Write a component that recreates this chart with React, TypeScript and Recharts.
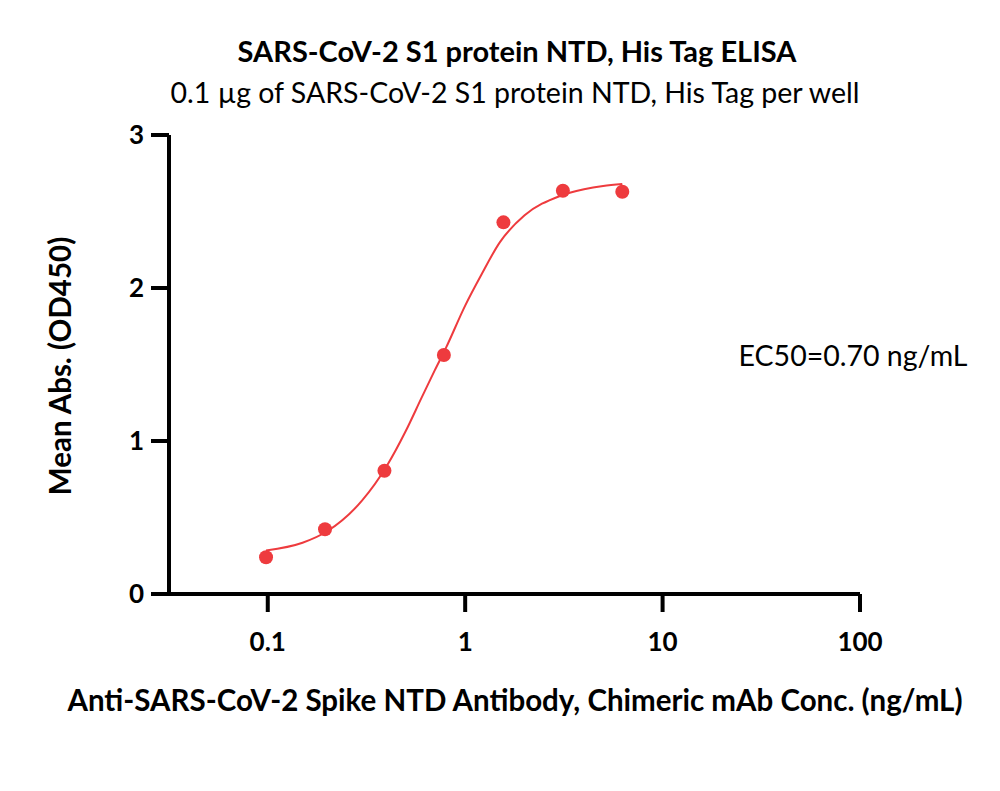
import React from 'react';
import {
  ComposedChart,
  Line,
  Scatter,
  XAxis,
  YAxis,
} from 'recharts';

// Measured ELISA points: antibody concentration (ng/mL) vs mean OD450
const concentrations = [0.098, 0.195, 0.39, 0.78, 1.5625, 3.125, 6.25];
const meanAbs = [0.24, 0.423, 0.806, 1.562, 2.429, 2.636, 2.629];

// Fitted 4PL curve, sampled along the concentration range
const fitConc = [0.098, 0.15, 0.2, 0.3, 0.4, 0.5, 0.6, 0.7, 0.8, 1.0, 1.2, 1.5, 2, 3, 4, 5, 6.25];
const fitAbs = [0.285, 0.335, 0.41, 0.61, 0.835, 1.065, 1.28, 1.46, 1.61, 1.885, 2.08, 2.3, 2.475, 2.6, 2.645, 2.667, 2.68];

const xTicks = [0.1, 1, 10, 100];
const yTicks = [0, 1, 2, 3];

const title = 'SARS-CoV-2 S1 protein NTD, His Tag ELISA';
const subtitle = '0.1 µg of SARS-CoV-2 S1 protein NTD, His Tag per well';
const xLabel = 'Anti-SARS-CoV-2 Spike NTD Antibody, Chimeric mAb Conc. (ng/mL)';
const yLabel = 'Mean Abs. (OD450)';
const ec50Text = 'EC50=0.70 ng/mL';

const RED = '#EE3B3E';
const FONT = 'Lato, "Open Sans", sans-serif';

const points = concentrations.map((x, i) => ({ x, y: meanAbs[i] }));
const fit = fitConc.map((x, i) => ({ x, y: fitAbs[i] }));

const tickStyle = { fill: '#000', fontSize: 26, fontWeight: 700, fontFamily: FONT };

function Centered({ x, y, children, style }: { x: number; y: number; children: React.ReactNode; style?: React.CSSProperties }) {
  return (
    <div
      style={{
        position: 'absolute',
        left: x,
        top: y,
        transform: 'translate(-50%, -50%)',
        whiteSpace: 'nowrap',
        lineHeight: 1,
        fontFamily: FONT,
        color: '#000',
        ...style,
      }}
    >
      {children}
    </div>
  );
}

export default function App() {
  return (
    <div style={{ position: 'relative', width: 984, height: 775 }}>
      <ComposedChart
        width={984}
        height={775}
        margin={{ top: 127, right: 132, left: 101, bottom: 129 }}
      >
        <XAxis
          dataKey="x"
          type="number"
          scale="log"
          domain={[0.0316, 100]}
          ticks={xTicks}
          allowDataOverflow
          tickFormatter={(v) => String(v)}
          tick={tickStyle}
          tickSize={18}
          tickMargin={21}
          height={60}
          axisLine={{ stroke: '#000', strokeWidth: 4 }}
          tickLine={{ stroke: '#000', strokeWidth: 4 }}
        />
        <YAxis
          dataKey="y"
          type="number"
          domain={[0, 3]}
          ticks={yTicks}
          tick={tickStyle}
          tickSize={18}
          tickMargin={7}
          width={60}
          axisLine={{ stroke: '#000', strokeWidth: 4 }}
          tickLine={{ stroke: '#000', strokeWidth: 4 }}
        />
        <Line
          data={fit}
          dataKey="y"
          type="monotone"
          stroke={RED}
          strokeWidth={2}
          dot={false}
          activeDot={false}
          isAnimationActive={false}
        />
        <Scatter
          data={points}
          dataKey="y"
          fill={RED}
          shape={(p: any) => <circle cx={p.cx} cy={p.cy} r={7} fill={RED} />}
          isAnimationActive={false}
        />
      </ComposedChart>

      <Centered x={509} y={42} style={{ fontSize: 29, fontWeight: 700 }}>{title}</Centered>
      <Centered x={507} y={84} style={{ fontSize: 28.5 }}>{subtitle}</Centered>
      <Centered x={507} y={692} style={{ fontSize: 29.5, fontWeight: 700 }}>{xLabel}</Centered>
      <Centered x={52} y={358} style={{ fontSize: 29.5, fontWeight: 700, transform: 'translate(-50%, -50%) rotate(-90deg)' }}>
        {yLabel}
      </Centered>
      <Centered x={845} y={347} style={{ fontSize: 28.5 }}>{ec50Text}</Centered>
    </div>
  );
}
